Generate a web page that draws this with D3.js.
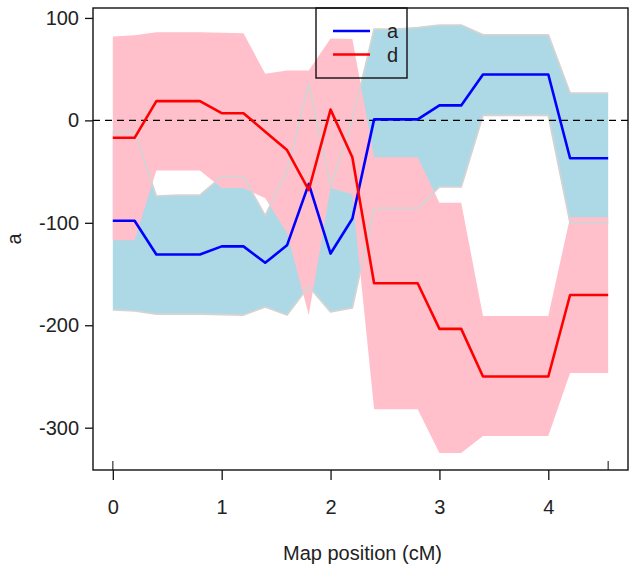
<!DOCTYPE html>
<html>
<head>
<meta charset="utf-8">
<script src="https://cdn.jsdelivr.net/npm/d3@7"></script>
<style>
  html, body { margin: 0; padding: 0; background: #fff; }
  text { font-family: "Liberation Sans", Arial, sans-serif; }
</style>
</head>
<body>
<svg id="chart" width="637" height="572"></svg>
<script>
// ---- data ----
const pos = [0, 0.2, 0.4, 0.6, 0.8, 1.0, 1.2, 1.4, 1.6, 1.8, 2.0, 2.2, 2.4, 2.6, 2.8, 3.0, 3.2, 3.4, 3.6, 3.8, 4.0, 4.2, 4.4, 4.55];
const aEst = [-98, -98, -131, -131, -131, -123, -123, -139, -122, -62, -130, -96, 1, 1, 1, 14.6, 14.6, 44.8, 44.8, 44.8, 44.8, -37, -37, -37];
const dEst = [-17, -17, 18.8, 18.8, 18.8, 7, 7, -11, -29, -68, 10.5, -36, -159, -159, -159, -203.5, -203.5, -250, -250, -250, -250, -170.5, -170.5, -170.5];
const aUpper = [-11, -11, -74, -73, -73, -55, -55, -93, -49, 36, -65, 0, 89, 89, 90.5, 93, 93, 83.5, 83.5, 83.5, 83.5, 26.6, 26.6, 26.6];
const aLower = [-185, -186, -189, -189, -189, -189.5, -190, -182, -190, -162, -187, -183, -86, -86, -86, -65, -65, 5, 5, 5, 5, -100, -100, -100];
const dUpper = [82, 83, 86, 86, 86, 85.5, 85, 45.5, 48.7, 48.7, 80, 79.5, -36, -36, -36, -80.5, -80.5, -191, -191, -191, -191, -94.5, -94.5, -94.5];
const dLower = [-117, -117, -49, -49, -49, -66, -66, -76, -110, -190, -66, -72, -282, -282, -282, -324.6, -324.6, -308, -308, -308, -308, -246.7, -246.7, -246.7];
const markers = [0, 4.55];
const xTicks = [0, 1, 2, 3, 4];
const yTicks = [100, 0, -100, -200, -300];
const legendLabels = ["a", "d"];
const xLabel = "Map position (cM)";
const yLabel = "a";

// ---- layout ----
const plot = { left: 93, right: 628, top: 8, bottom: 470 };
const svg = d3.select("#chart");
svg.append("rect").attr("width", 637).attr("height", 572).attr("fill", "#fff");

function padded(ext) { const r = ext[1] - ext[0]; return [ext[0] - 0.04 * r, ext[1] + 0.04 * r]; }
const xExt = d3.extent(pos);
const yAll = [].concat(aEst, dEst, aUpper, aLower, dUpper, dLower);
const yExt = d3.extent(yAll);
const x = d3.scaleLinear().domain(padded(xExt)).range([plot.left, plot.right]);
const y = d3.scaleLinear().domain(padded(yExt)).range([plot.bottom, plot.top]);
const fmt = d => String(d); // plain hyphen-minus like R

const idx = d3.range(pos.length);
const g = svg.append("g");
g.append("defs").append("clipPath").attr("id", "clip")
  .append("rect").attr("x", plot.left).attr("y", plot.top)
  .attr("width", plot.right - plot.left).attr("height", plot.bottom - plot.top);
const pg = g.append("g").attr("clip-path", "url(#clip)");

// bands
const bandA = d3.area().x(i => x(pos[i])).y0(i => y(aLower[i])).y1(i => y(aUpper[i]));
const bandD = d3.area().x(i => x(pos[i])).y0(i => y(dLower[i])).y1(i => y(dUpper[i]));
pg.append("path").attr("d", bandA(idx)).attr("fill", "#add8e6");
pg.append("path").attr("d", bandD(idx)).attr("fill", "#ffc0cb");

const lineOf = arr => d3.line().x(i => x(pos[i])).y(i => y(arr[i]))(idx);
[aUpper, aLower].forEach(arr => {
  pg.append("path").attr("d", lineOf(arr)).attr("fill", "none")
    .attr("stroke", "#d3d3d3").attr("stroke-width", 1.8).attr("stroke-linejoin", "round");
});

// zero line
pg.append("line").attr("x1", plot.left).attr("x2", plot.right)
  .attr("y1", y(0)).attr("y2", y(0))
  .attr("stroke", "#000").attr("stroke-width", 1.4).attr("stroke-dasharray", "7,5");

// estimate lines
pg.append("path").attr("d", lineOf(aEst)).attr("fill", "none")
  .attr("stroke", "#0000ff").attr("stroke-width", 2.6).attr("stroke-linejoin", "round");
pg.append("path").attr("d", lineOf(dEst)).attr("fill", "none")
  .attr("stroke", "#ff0000").attr("stroke-width", 2.6).attr("stroke-linejoin", "round");

// marker rug
markers.forEach(m => {
  g.append("line").attr("x1", x(m)).attr("x2", x(m))
    .attr("y1", plot.bottom).attr("y2", plot.bottom - 9)
    .attr("stroke", "#444").attr("stroke-width", 1.3);
});

// box
g.append("rect").attr("x", plot.left).attr("y", plot.top)
  .attr("width", plot.right - plot.left).attr("height", plot.bottom - plot.top)
  .attr("fill", "none").attr("stroke", "#111").attr("stroke-width", 1.4);

// x axis
const xAxis = d3.axisBottom(x).tickValues(xTicks).tickSize(10).tickPadding(20).tickFormat(fmt);
const xa = g.append("g").attr("transform", `translate(0,${plot.bottom})`).call(xAxis);
xa.select(".domain").remove();
xa.selectAll(".tick line").attr("stroke", "#111").attr("stroke-width", 1.3);
xa.selectAll(".tick text").attr("font-size", 20).attr("fill", "#222")
  .attr("font-family", "Liberation Sans, Arial, sans-serif");

// y axis
const yAxis = d3.axisLeft(y).tickValues(yTicks).tickSize(8).tickPadding(6).tickFormat(fmt);
const ya = g.append("g").attr("transform", `translate(${plot.left},0)`).call(yAxis);
ya.select(".domain").remove();
ya.selectAll(".tick line").attr("stroke", "#111").attr("stroke-width", 1.3);
ya.selectAll(".tick text").attr("font-size", 20).attr("fill", "#222")
  .attr("font-family", "Liberation Sans, Arial, sans-serif");

// axis titles
g.append("text").attr("x", (plot.left + plot.right) / 2 + 2).attr("y", 560)
  .attr("text-anchor", "middle").attr("font-size", 20).attr("fill", "#222").text(xLabel);
g.append("text").attr("transform", `translate(21,${(plot.top + plot.bottom) / 2}) rotate(-90)`)
  .attr("text-anchor", "middle").attr("font-size", 20).attr("fill", "#222").text(yLabel);

// legend
const lg = g.append("g");
lg.append("rect").attr("x", 316).attr("y", plot.top).attr("width", 91).attr("height", 70)
  .attr("fill", "none").attr("stroke", "#111").attr("stroke-width", 1.4);
const legColors = ["#0000ff", "#ff0000"];
legendLabels.forEach((lab, i) => {
  const yy = 31 + i * 23.5;
  lg.append("line").attr("x1", 333).attr("x2", 370).attr("y1", yy).attr("y2", yy)
    .attr("stroke", legColors[i]).attr("stroke-width", 2.6);
  lg.append("text").attr("x", 387).attr("y", yy + 7).attr("font-size", 20).attr("fill", "#222").text(lab);
});
</script>
</body>
</html>
